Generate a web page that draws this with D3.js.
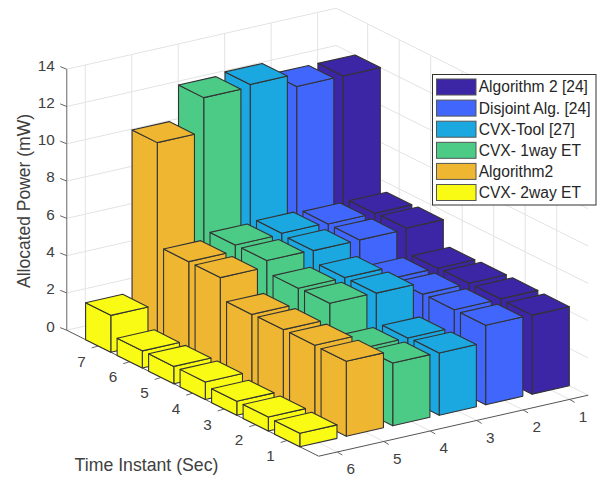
<!DOCTYPE html>
<html>
<head>
<meta charset="utf-8">
<script src="https://cdn.jsdelivr.net/npm/d3@7/dist/d3.min.js"></script>
<style>
html,body{margin:0;padding:0;background:#fff;}
svg{display:block;}
text{font-family:"Liberation Sans",Arial,sans-serif;}
</style>
</head>
<body>
<svg id="chart" width="597" height="477"></svg>
<script>
const timeInstants = [1, 2, 3, 4, 5, 6, 7];
const seriesSlots = [1, 2, 3, 4, 5, 6];
const powerTicks = [0, 2, 4, 6, 8, 10, 12, 14];
const seriesNames = ["Algorithm 2 [24]", "Disjoint Alg. [24]", "CVX-Tool [27]", "CVX- 1way ET", "Algorithm2", "CVX- 2way ET"];
const seriesColors = ["#3c26a6", "#4166fb", "#1ba8e0", "#4ccb86", "#efb731", "#f9fb14"];

const algorithm224 = [4.24, 4.27, 4.26, 4.22, 5.53, 5.48, 12.0];
const disjointAlg24 = [4.26, 4.25, 4.24, 4.23, 5.46, 5.47, 12.0];
const cvxTool27 = [3.34, 3.30, 4.86, 4.85, 5.45, 5.54, 12.67];
const cvx1wayET = [3.36, 3.30, 4.88, 4.84, 5.48, 5.47, 12.53];
const algorithm2 = [4.02, 4.04, 4.03, 4.00, 5.13, 5.14, 10.68];
const cvx2wayET = [0.72, 0.75, 0.75, 0.94, 0.93, 0.92, 1.98];
const seriesValues = [algorithm224, disjointAlg24, cvxTool27, cvx1wayET, algorithm2, cvx2wayET];

const svg = d3.select("#chart");

// Oblique box projection: scales map data to fractions of the box edges.
const sScale = d3.scaleLinear().domain([6.4, 0.6]).range([0, 1]);
const tScale = d3.scaleLinear().domain([0, 8]).range([0, 1]);
const zScale = d3.scaleLinear().domain([0, 14]).range([0, 261]);
const origin = [318.7, 456.2];
const sEdge = [269.5, -61];
const tEdge = [-252, -126];
function P(s, t, z) {
  const a = sScale(s), b = tScale(t);
  return [origin[0] + a * sEdge[0] + b * tEdge[0],
          origin[1] + a * sEdge[1] + b * tEdge[1] - zScale(z)];
}
const line = (pts) => "M" + pts.map(p => p[0].toFixed(2) + "," + p[1].toFixed(2)).join("L");
const closed = (pts) => line(pts) + "Z";

const sMin = 0.6, sMax = 6.4, tMin = 0, tMax = 8, zMax = 14;
const gridColor = "#e3e3e3";

// Grid
const grid = svg.append("g").attr("fill", "none").attr("stroke", gridColor).attr("stroke-width", 1);
const gridLines = [];
powerTicks.forEach(z => {
  gridLines.push([P(sMax, tMax, z), P(sMin, tMax, z)]);
  gridLines.push([P(sMin, tMax, z), P(sMin, tMin, z)]);
});
seriesSlots.forEach(s => {
  gridLines.push([P(s, tMax, 0), P(s, tMax, zMax)]);
  gridLines.push([P(s, tMin, 0), P(s, tMax, 0)]);
});
timeInstants.forEach(t => {
  gridLines.push([P(sMin, t, 0), P(sMin, t, zMax)]);
  gridLines.push([P(sMax, t, 0), P(sMin, t, 0)]);
});
grid.selectAll("path").data(gridLines).join("path").attr("d", line);

// Axes
const axes = svg.append("g").attr("fill", "none").attr("stroke-width", 1);
axes.append("path").attr("d", line([P(sMax, tMax, 0), P(sMax, tMax, zMax)])).attr("stroke", "#8a8a8a").attr("stroke-width", 1.3);
axes.append("path").attr("d", line([P(sMax, tMax, 0), P(sMax, tMin, 0)])).attr("stroke", "#555");
axes.append("path").attr("d", line([P(sMax, tMin, 0), P(sMin, tMin, 0)])).attr("stroke", "#555");

const tickColor = "#666";
powerTicks.forEach(z => {
  const p = P(sMax, tMax, z);
  axes.append("path").attr("d", line([p, [p[0] - 6.5, p[1] - 2.6]])).attr("stroke", tickColor);
});
timeInstants.forEach(t => {
  const p = P(sMax, t, 0);
  axes.append("path").attr("d", line([p, [p[0] - 6.5, p[1] + 2]])).attr("stroke", tickColor);
});
seriesSlots.forEach(s => {
  const p = P(s, tMin, 0);
  axes.append("path").attr("d", line([p, [p[0] + 5, p[1] + 3]])).attr("stroke", tickColor);
});

// Bars, back to front
const hw = 0.4;
const bars = svg.append("g").attr("stroke", "#333").attr("stroke-width", 1.1).attr("stroke-linejoin", "round");
timeInstants.slice().reverse().forEach(t => {
  seriesSlots.forEach((s, i) => {
    const v = seriesValues[i][t - 1];
    const c = seriesColors[i];
    const g = bars.append("g").attr("fill", c);
    // face toward low t
    g.append("path").attr("d", closed([P(s + hw, t - hw, 0), P(s - hw, t - hw, 0), P(s - hw, t - hw, v), P(s + hw, t - hw, v)]));
    // face toward high s
    g.append("path").attr("d", closed([P(s + hw, t + hw, 0), P(s + hw, t - hw, 0), P(s + hw, t - hw, v), P(s + hw, t + hw, v)]));
    // top
    g.append("path").attr("d", closed([P(s + hw, t + hw, v), P(s - hw, t + hw, v), P(s - hw, t - hw, v), P(s + hw, t - hw, v)]));
  });
});

// Tick labels
const labelColor = "#404040";
const labels = svg.append("g").attr("fill", labelColor).attr("font-size", 15.3);
powerTicks.forEach(z => {
  const p = P(sMax, tMax, z);
  labels.append("text").attr("x", p[0] - 12).attr("y", p[1] - 4).attr("dy", "0.35em").attr("text-anchor", "end").text(z);
});
timeInstants.forEach(t => {
  const p = P(sMax, t, 0);
  labels.append("text").attr("x", p[0] - 16.7).attr("y", p[1] + 15.3).attr("dy", "0.35em").attr("text-anchor", "middle").text(t);
});
seriesSlots.forEach(s => {
  const p = P(s, tMin, 0);
  labels.append("text").attr("x", p[0] + 13.5).attr("y", p[1] + 17).attr("dy", "0.35em").attr("text-anchor", "middle").text(s);
});

// Axis titles
svg.append("text").attr("x", 146.5).attr("y", 465).attr("dy", "0.35em").attr("text-anchor", "middle")
  .attr("font-size", 17.7).attr("fill", labelColor).text("Time Instant (Sec)");
svg.append("text").attr("transform", "translate(23.5,201) rotate(-90)").attr("dy", "0.35em").attr("text-anchor", "middle")
  .attr("font-size", 17.5).attr("fill", labelColor).text("Allocated Power (mW)");

// Legend
const legend = svg.append("g");
legend.append("rect").attr("x", 432.5).attr("y", 74.5).attr("width", 163.5).attr("height", 130.5)
  .attr("fill", "#fff").attr("stroke", "#333").attr("stroke-width", 1);
const legendY = d3.scaleLinear().domain([0, 5]).range([87, 192.5]);
seriesNames.forEach((name, i) => {
  const y = legendY(i);
  legend.append("rect").attr("x", 436.5).attr("y", y - 8).attr("width", 39.5).attr("height", 16)
    .attr("fill", seriesColors[i]).attr("stroke", "#555").attr("stroke-width", 1);
  legend.append("text").attr("x", 478.7).attr("y", y).attr("dy", "0.35em")
    .attr("font-size", 15.6).attr("fill", "#262626").text(name);
});
</script>
</body>
</html>
